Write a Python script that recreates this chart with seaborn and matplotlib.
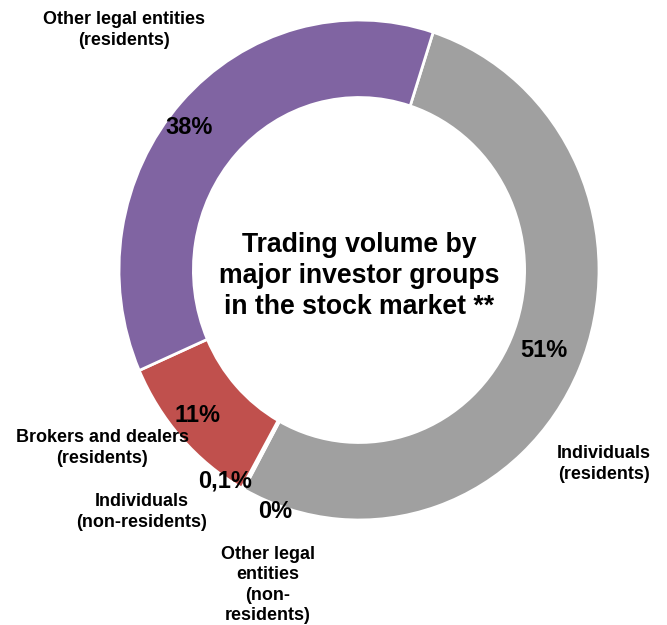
import matplotlib.pyplot as plt
import seaborn as sns

# shares of trading volume, clockwise from the top (wedge sizes as drawn)
groups = ["Individuals (residents)", "Other legal entities (non-residents)",
          "Individuals (non-residents)", "Brokers and dealers (residents)",
          "Other legal entities (residents)"]
shares = [53, 0.05, 0.1, 10.3, 36.6]
pct_labels = ["51%", "0%", "0,1%", "11%", "38%"]
cat_labels = ["Individuals\n(residents)", "Other legal\nentities\n(non-\nresidents)",
              "Individuals\n(non-residents)", "Brokers and dealers\n(residents)",
              "Other legal entities\n(residents)"]
colors = ["#A0A0A0", "#4F81BD", "#9BBB59", "#C0504D", "#8064A2"]

sns.set_theme(style="white")
plt.rcParams["font.family"] = ["Liberation Sans", "DejaVu Sans"]

W, H = 667, 625
fig = plt.figure(figsize=(W / 100, H / 100), dpi=100)
ax = fig.add_axes([0, 0, 1, 1])

# ring centre and radii in pixels (slightly taller than wide, as in the original)
cx, cy, rx, ry = 359, 270, 240, 250
ax.pie(shares, colors=sns.color_palette(colors), startangle=72, counterclock=False,
       radius=1, wedgeprops=dict(width=0.31, edgecolor="white", linewidth=2))
ax.set_aspect("auto")
ax.set_xlim(-cx / rx, (W - cx) / rx)
ax.set_ylim(-(H - cy) / ry, cy / ry)
ax.axis("off")

# percent labels (pixel positions from the top-left)
pct_pos = [(544, 350), (275, 512), (225, 481), (198, 415), (189, 127)]
for t, (x, y) in zip(pct_labels, pct_pos):
    fig.text(x / W, 1 - y / H, t, ha="center", va="center", fontsize=17,
             fontweight="bold", color="black")

# category labels outside the ring
cat_pos = [(604, 464), (268, 585), (142, 512), (102, 448), (124, 30)]
for t, (x, y) in zip(cat_labels, cat_pos):
    fig.text(x / W, 1 - y / H, t, ha="center", va="center", fontsize=13,
             fontweight="bold", color="black", linespacing=1.25)

fig.text(cx / W, 1 - 276 / H, "Trading volume by\nmajor investor groups\nin the stock market **",
         ha="center", va="center", fontsize=19.2, fontweight="bold", color="black",
         linespacing=1.25)

fig.savefig("out.png", dpi=100)
